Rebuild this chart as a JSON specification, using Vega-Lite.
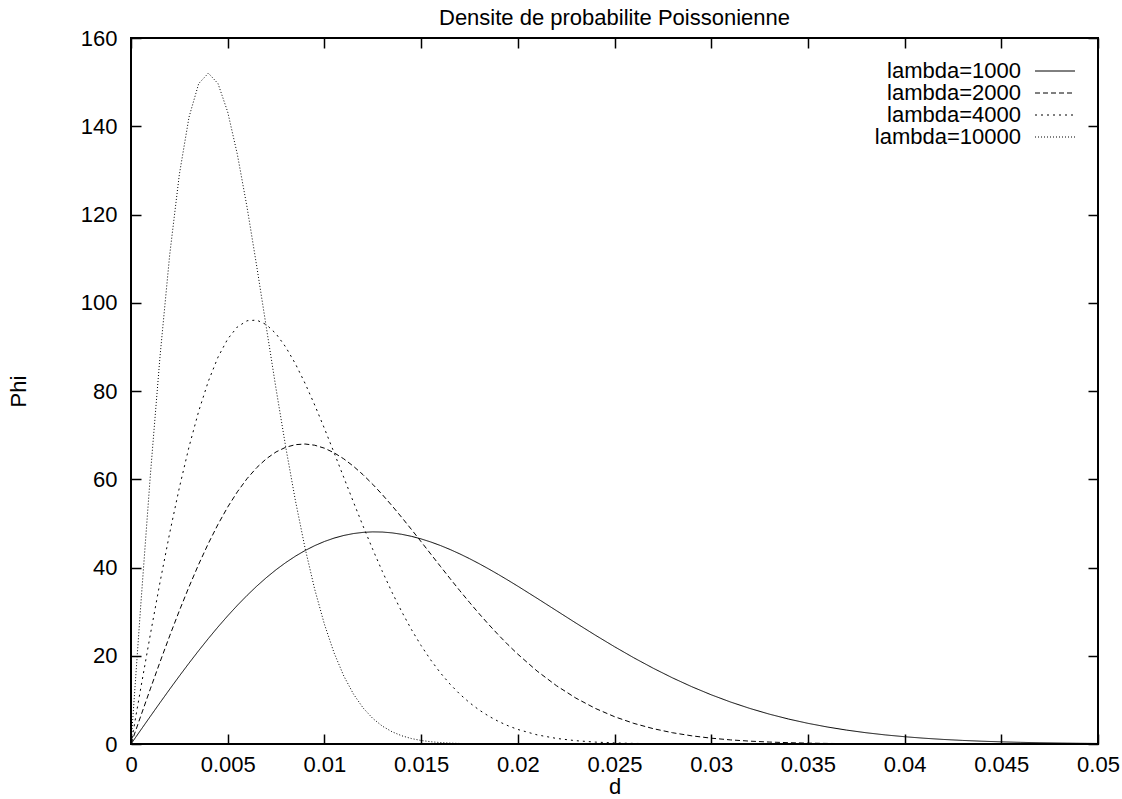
{
 "$schema": "https://vega.github.io/schema/vega-lite/v6.json",
 "width": 967, "height": 706,
 "autosize": {"type": "none"},
 "padding": {"left": 131, "top": 38, "right": 24, "bottom": 55},
 "background": "white",
 "config": {
  "font": "Liberation Sans",
  "view": {"stroke": "#000", "strokeWidth": 2},
  "axis": {"domain": false, "grid": false, "labelFlush": false, "labelFontSize": 22, "titleFontSize": 22, "labelColor": "#000", "titleColor": "#000", "tickColor": "#000", "tickSize": -10, "tickWidth": 1.5, "labelFont": "Liberation Sans", "titleFont": "Liberation Sans", "titleFontWeight": "normal"}
 },
 "title": {"text": "Densite de probabilite Poissonienne", "fontSize": 22, "fontWeight": "normal", "font": "Liberation Sans", "color": "#000", "anchor": "middle", "offset": 8, "baseline": "bottom", "dy": 33},
 "data": {"values": [
  {"s":"lambda=1000","d":0,"phi":0},{"s":"lambda=1000","d":0.0005,"phi":3.139},{"s":"lambda=1000","d":0.001,"phi":6.263},{"s":"lambda=1000","d":0.0015,"phi":9.358},{"s":"lambda=1000","d":0.002,"phi":12.409},{"s":"lambda=1000","d":0.0025,"phi":15.403},{"s":"lambda=1000","d":0.003,"phi":18.324},{"s":"lambda=1000","d":0.0035,"phi":21.161},{"s":"lambda=1000","d":0.004,"phi":23.901},{"s":"lambda=1000","d":0.0045,"phi":26.532},{"s":"lambda=1000","d":0.005,"phi":29.043},{"s":"lambda=1000","d":0.0055,"phi":31.425},{"s":"lambda=1000","d":0.006,"phi":33.668},{"s":"lambda=1000","d":0.0065,"phi":35.765},{"s":"lambda=1000","d":0.007,"phi":37.707},{"s":"lambda=1000","d":0.0075,"phi":39.491},{"s":"lambda=1000","d":0.008,"phi":41.11},{"s":"lambda=1000","d":0.0085,"phi":42.562},{"s":"lambda=1000","d":0.009,"phi":43.844},{"s":"lambda=1000","d":0.0095,"phi":44.954},{"s":"lambda=1000","d":0.01,"phi":45.893},{"s":"lambda=1000","d":0.0105,"phi":46.66},{"s":"lambda=1000","d":0.011,"phi":47.259},{"s":"lambda=1000","d":0.0115,"phi":47.691},{"s":"lambda=1000","d":0.012,"phi":47.961},{"s":"lambda=1000","d":0.0125,"phi":48.073},{"s":"lambda=1000","d":0.013,"phi":48.033},{"s":"lambda=1000","d":0.0135,"phi":47.847},{"s":"lambda=1000","d":0.014,"phi":47.522},{"s":"lambda=1000","d":0.0145,"phi":47.064},{"s":"lambda=1000","d":0.015,"phi":46.483},{"s":"lambda=1000","d":0.0155,"phi":45.785},{"s":"lambda=1000","d":0.016,"phi":44.981},{"s":"lambda=1000","d":0.0165,"phi":44.078},{"s":"lambda=1000","d":0.017,"phi":43.085},{"s":"lambda=1000","d":0.0175,"phi":42.013},{"s":"lambda=1000","d":0.018,"phi":40.869},{"s":"lambda=1000","d":0.0185,"phi":39.664},{"s":"lambda=1000","d":0.019,"phi":38.406},{"s":"lambda=1000","d":0.0195,"phi":37.104},{"s":"lambda=1000","d":0.02,"phi":35.765},{"s":"lambda=1000","d":0.021,"phi":33.015},{"s":"lambda=1000","d":0.022,"phi":30.217},{"s":"lambda=1000","d":0.023,"phi":27.425},{"s":"lambda=1000","d":0.024,"phi":24.69},{"s":"lambda=1000","d":0.025,"phi":22.049},{"s":"lambda=1000","d":0.026,"phi":19.536},{"s":"lambda=1000","d":0.027,"phi":17.176},{"s":"lambda=1000","d":0.028,"phi":14.985},{"s":"lambda=1000","d":0.029,"phi":12.976},{"s":"lambda=1000","d":0.03,"phi":11.152},{"s":"lambda=1000","d":0.031,"phi":9.514},{"s":"lambda=1000","d":0.032,"phi":8.058},{"s":"lambda=1000","d":0.033,"phi":6.775},{"s":"lambda=1000","d":0.034,"phi":5.655},{"s":"lambda=1000","d":0.035,"phi":4.687},{"s":"lambda=1000","d":0.036,"phi":3.857},{"s":"lambda=1000","d":0.037,"phi":3.152},{"s":"lambda=1000","d":0.038,"phi":2.557},{"s":"lambda=1000","d":0.039,"phi":2.061},{"s":"lambda=1000","d":0.04,"phi":1.649},{"s":"lambda=1000","d":0.041,"phi":1.311},{"s":"lambda=1000","d":0.042,"phi":1.034},{"s":"lambda=1000","d":0.043,"phi":0.811},{"s":"lambda=1000","d":0.044,"phi":0.631},{"s":"lambda=1000","d":0.045,"phi":0.488},{"s":"lambda=1000","d":0.046,"phi":0.375},{"s":"lambda=1000","d":0.047,"phi":0.286},{"s":"lambda=1000","d":0.048,"phi":0.217},{"s":"lambda=1000","d":0.049,"phi":0.163},{"s":"lambda=1000","d":0.05,"phi":0.122},
  {"s":"lambda=2000","d":0,"phi":0},{"s":"lambda=2000","d":0.0005,"phi":6.273},{"s":"lambda=2000","d":0.001,"phi":12.488},{"s":"lambda=2000","d":0.0015,"phi":18.585},{"s":"lambda=2000","d":0.002,"phi":24.509},{"s":"lambda=2000","d":0.0025,"phi":30.206},{"s":"lambda=2000","d":0.003,"phi":35.626},{"s":"lambda=2000","d":0.0035,"phi":40.724},{"s":"lambda=2000","d":0.004,"phi":45.458},{"s":"lambda=2000","d":0.0045,"phi":49.793},{"s":"lambda=2000","d":0.005,"phi":53.699},{"s":"lambda=2000","d":0.0055,"phi":57.152},{"s":"lambda=2000","d":0.006,"phi":60.135},{"s":"lambda=2000","d":0.0065,"phi":62.637},{"s":"lambda=2000","d":0.007,"phi":64.655},{"s":"lambda=2000","d":0.0075,"phi":66.189},{"s":"lambda=2000","d":0.008,"phi":67.245},{"s":"lambda=2000","d":0.0085,"phi":67.838},{"s":"lambda=2000","d":0.009,"phi":67.986},{"s":"lambda=2000","d":0.0095,"phi":67.712},{"s":"lambda=2000","d":0.01,"phi":67.04},{"s":"lambda=2000","d":0.0105,"phi":66.002},{"s":"lambda=2000","d":0.011,"phi":64.629},{"s":"lambda=2000","d":0.0115,"phi":62.956},{"s":"lambda=2000","d":0.012,"phi":61.017},{"s":"lambda=2000","d":0.0125,"phi":58.852},{"s":"lambda=2000","d":0.013,"phi":56.494},{"s":"lambda=2000","d":0.0135,"phi":53.98},{"s":"lambda=2000","d":0.014,"phi":51.345},{"s":"lambda=2000","d":0.0145,"phi":48.625},{"s":"lambda=2000","d":0.015,"phi":45.849},{"s":"lambda=2000","d":0.0155,"phi":43.049},{"s":"lambda=2000","d":0.016,"phi":40.251},{"s":"lambda=2000","d":0.0165,"phi":37.48},{"s":"lambda=2000","d":0.017,"phi":34.757},{"s":"lambda=2000","d":0.0175,"phi":32.105},{"s":"lambda=2000","d":0.018,"phi":29.537},{"s":"lambda=2000","d":0.0185,"phi":27.069},{"s":"lambda=2000","d":0.019,"phi":24.711},{"s":"lambda=2000","d":0.0195,"phi":22.47},{"s":"lambda=2000","d":0.02,"phi":20.358},{"s":"lambda=2000","d":0.021,"phi":16.521},{"s":"lambda=2000","d":0.022,"phi":13.21},{"s":"lambda=2000","d":0.023,"phi":10.41},{"s":"lambda=2000","d":0.024,"phi":8.085},{"s":"lambda=2000","d":0.025,"phi":6.19},{"s":"lambda=2000","d":0.026,"phi":4.673},{"s":"lambda=2000","d":0.027,"phi":3.478},{"s":"lambda=2000","d":0.028,"phi":2.553},{"s":"lambda=2000","d":0.029,"phi":1.848},{"s":"lambda=2000","d":0.03,"phi":1.32},{"s":"lambda=2000","d":0.031,"phi":0.93},{"s":"lambda=2000","d":0.032,"phi":0.646},{"s":"lambda=2000","d":0.033,"phi":0.443},{"s":"lambda=2000","d":0.034,"phi":0.299},{"s":"lambda=2000","d":0.035,"phi":0.2},{"s":"lambda=2000","d":0.036,"phi":0.132},{"s":"lambda=2000","d":0.037,"phi":0.086},{"s":"lambda=2000","d":0.038,"phi":0.055},{"s":"lambda=2000","d":0.039,"phi":0.035},{"s":"lambda=2000","d":0.04,"phi":0.022},{"s":"lambda=2000","d":0.041,"phi":0.013},{"s":"lambda=2000","d":0.042,"phi":0.008},{"s":"lambda=2000","d":0.043,"phi":0.005},{"s":"lambda=2000","d":0.044,"phi":0.003},{"s":"lambda=2000","d":0.045,"phi":0.002},{"s":"lambda=2000","d":0.046,"phi":0.001},{"s":"lambda=2000","d":0.047,"phi":0.001},{"s":"lambda=2000","d":0.048,"phi":0},{"s":"lambda=2000","d":0.049,"phi":0},{"s":"lambda=2000","d":0.05,"phi":0},
  {"s":"lambda=4000","d":0,"phi":0},{"s":"lambda=4000","d":0.0005,"phi":12.527},{"s":"lambda=4000","d":0.001,"phi":24.819},{"s":"lambda=4000","d":0.0015,"phi":36.648},{"s":"lambda=4000","d":0.002,"phi":47.801},{"s":"lambda=4000","d":0.0025,"phi":58.086},{"s":"lambda=4000","d":0.003,"phi":67.336},{"s":"lambda=4000","d":0.0035,"phi":75.415},{"s":"lambda=4000","d":0.004,"phi":82.22},{"s":"lambda=4000","d":0.0045,"phi":87.687},{"s":"lambda=4000","d":0.005,"phi":91.785},{"s":"lambda=4000","d":0.0055,"phi":94.518},{"s":"lambda=4000","d":0.006,"phi":95.922},{"s":"lambda=4000","d":0.0065,"phi":96.067},{"s":"lambda=4000","d":0.007,"phi":95.043},{"s":"lambda=4000","d":0.0075,"phi":92.966},{"s":"lambda=4000","d":0.008,"phi":89.961},{"s":"lambda=4000","d":0.0085,"phi":86.171},{"s":"lambda=4000","d":0.009,"phi":81.739},{"s":"lambda=4000","d":0.0095,"phi":76.812},{"s":"lambda=4000","d":0.01,"phi":71.53},{"s":"lambda=4000","d":0.0105,"phi":66.03},{"s":"lambda=4000","d":0.011,"phi":60.433},{"s":"lambda=4000","d":0.0115,"phi":54.851},{"s":"lambda=4000","d":0.012,"phi":49.379},{"s":"lambda=4000","d":0.0125,"phi":44.097},{"s":"lambda=4000","d":0.013,"phi":39.072},{"s":"lambda=4000","d":0.0135,"phi":34.351},{"s":"lambda=4000","d":0.014,"phi":29.97},{"s":"lambda=4000","d":0.0145,"phi":25.952},{"s":"lambda=4000","d":0.015,"phi":22.305},{"s":"lambda=4000","d":0.0155,"phi":19.029},{"s":"lambda=4000","d":0.016,"phi":16.115},{"s":"lambda=4000","d":0.0165,"phi":13.549},{"s":"lambda=4000","d":0.017,"phi":11.31},{"s":"lambda=4000","d":0.0175,"phi":9.374},{"s":"lambda=4000","d":0.018,"phi":7.714},{"s":"lambda=4000","d":0.0185,"phi":6.303},{"s":"lambda=4000","d":0.019,"phi":5.115},{"s":"lambda=4000","d":0.0195,"phi":4.122},{"s":"lambda=4000","d":0.02,"phi":3.298},{"s":"lambda=4000","d":0.021,"phi":2.069},{"s":"lambda=4000","d":0.022,"phi":1.263},{"s":"lambda=4000","d":0.023,"phi":0.75},{"s":"lambda=4000","d":0.024,"phi":0.433},{"s":"lambda=4000","d":0.025,"phi":0.244},{"s":"lambda=4000","d":0.026,"phi":0.134},{"s":"lambda=4000","d":0.027,"phi":0.071},{"s":"lambda=4000","d":0.028,"phi":0.037},{"s":"lambda=4000","d":0.029,"phi":0.019},{"s":"lambda=4000","d":0.03,"phi":0.009},{"s":"lambda=4000","d":0.031,"phi":0.004},{"s":"lambda=4000","d":0.032,"phi":0.002},{"s":"lambda=4000","d":0.033,"phi":0.001},{"s":"lambda=4000","d":0.034,"phi":0},{"s":"lambda=4000","d":0.035,"phi":0},{"s":"lambda=4000","d":0.04,"phi":0},{"s":"lambda=4000","d":0.045,"phi":0},{"s":"lambda=4000","d":0.05,"phi":0},
  {"s":"lambda=10000","d":0,"phi":0},{"s":"lambda=10000","d":0.0005,"phi":31.17},{"s":"lambda=10000","d":0.001,"phi":60.889},{"s":"lambda=10000","d":0.0015,"phi":87.816},{"s":"lambda=10000","d":0.002,"phi":110.825},{"s":"lambda=10000","d":0.0025,"phi":129.076},{"s":"lambda=10000","d":0.003,"phi":142.072},{"s":"lambda=10000","d":0.0035,"phi":149.662},{"s":"lambda=10000","d":0.004,"phi":152.034},{"s":"lambda=10000","d":0.0045,"phi":149.66},{"s":"lambda=10000","d":0.005,"phi":143.237},{"s":"lambda=10000","d":0.0055,"phi":133.605},{"s":"lambda=10000","d":0.006,"phi":121.663},{"s":"lambda=10000","d":0.0065,"phi":108.304},{"s":"lambda=10000","d":0.007,"phi":94.348},{"s":"lambda=10000","d":0.0075,"phi":80.497},{"s":"lambda=10000","d":0.008,"phi":67.308},{"s":"lambda=10000","d":0.0085,"phi":55.185},{"s":"lambda=10000","d":0.009,"phi":44.39},{"s":"lambda=10000","d":0.0095,"phi":35.04},{"s":"lambda=10000","d":0.01,"phi":27.152},{"s":"lambda=10000","d":0.0105,"phi":20.66},{"s":"lambda=10000","d":0.011,"phi":15.442},{"s":"lambda=10000","d":0.0115,"phi":11.338},{"s":"lambda=10000","d":0.012,"phi":8.178},{"s":"lambda=10000","d":0.0125,"phi":5.797},{"s":"lambda=10000","d":0.013,"phi":4.039},{"s":"lambda=10000","d":0.0135,"phi":2.767},{"s":"lambda=10000","d":0.014,"phi":1.863},{"s":"lambda=10000","d":0.0145,"phi":1.233},{"s":"lambda=10000","d":0.015,"phi":0.802},{"s":"lambda=10000","d":0.0155,"phi":0.514},{"s":"lambda=10000","d":0.016,"phi":0.323},{"s":"lambda=10000","d":0.0165,"phi":0.2},{"s":"lambda=10000","d":0.017,"phi":0.122},{"s":"lambda=10000","d":0.0175,"phi":0.073},{"s":"lambda=10000","d":0.018,"phi":0.043},{"s":"lambda=10000","d":0.0185,"phi":0.025},{"s":"lambda=10000","d":0.019,"phi":0.014},{"s":"lambda=10000","d":0.0195,"phi":0.008},{"s":"lambda=10000","d":0.02,"phi":0.004},{"s":"lambda=10000","d":0.025,"phi":0},{"s":"lambda=10000","d":0.03,"phi":0},{"s":"lambda=10000","d":0.035,"phi":0},{"s":"lambda=10000","d":0.04,"phi":0},{"s":"lambda=10000","d":0.045,"phi":0},{"s":"lambda=10000","d":0.05,"phi":0}
 ]},
 "layer": [
  {
   "mark": {"type": "line", "color": "#000", "strokeWidth": 1},
   "encoding": {
    "x": {"field": "d", "type": "quantitative", "scale": {"domain": [0, 0.05], "nice": false, "zero": false},
          "axis": {"orient": "bottom", "values": [0,0.005,0.01,0.015,0.02,0.025,0.03,0.035,0.04,0.045,0.05], "format": ".3~f", "labelPadding": 20, "title": "d", "titlePadding": 1}},
    "y": {"field": "phi", "type": "quantitative", "scale": {"domain": [0, 160], "nice": false},
          "axis": {"orient": "left", "values": [0,20,40,60,80,100,120,140,160], "labelPadding": 24, "title": "Phi", "titlePadding": 50}},
    "strokeDash": {"field": "s", "type": "nominal",
     "scale": {"domain": ["lambda=1000","lambda=2000","lambda=4000","lambda=10000"], "range": [[1,0],[5,3],[2,4],[1,2]]},
     "legend": {"title": null, "orient": "none", "legendX": 913, "legendY": 22, "labelAlign": "right", "labelOffset": -45, "symbolType": "M-2,0H2", "symbolSize": 400, "symbolStrokeColor": "#000", "symbolStrokeWidth": 1, "labelFontSize": 22, "labelFont": "Liberation Sans", "labelColor": "#000", "labelLimit": 400, "rowPadding": 0}}
   }
  },
  {
   "mark": {"type": "point", "opacity": 0, "size": 0},
   "encoding": {
    "x": {"field": "d", "type": "quantitative", "axis": {"orient": "top", "values": [0,0.005,0.01,0.015,0.02,0.025,0.03,0.035,0.04,0.045,0.05], "labels": false, "title": null}},
    "y": {"field": "phi", "type": "quantitative", "axis": {"orient": "right", "values": [0,20,40,60,80,100,120,140,160], "labels": false, "title": null}}
   }
  }
 ],
 "resolve": {"axis": {"x": "independent", "y": "independent"}}
}
